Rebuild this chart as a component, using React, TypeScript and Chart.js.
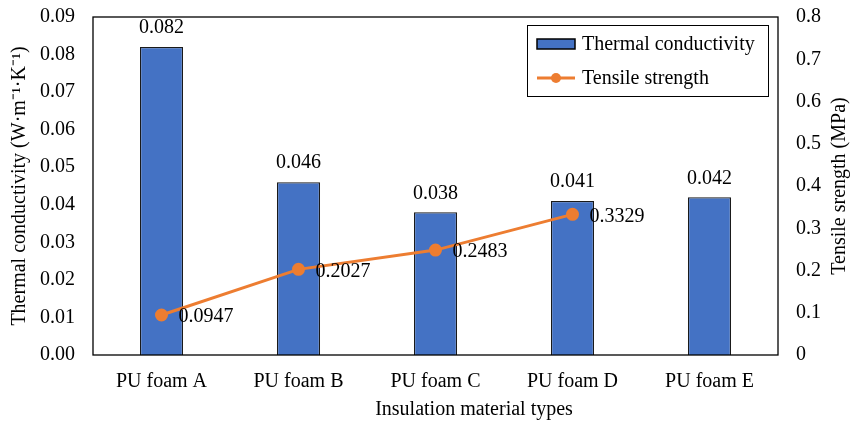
import React, { useEffect, useRef } from "react";
import { Chart, registerables } from "chart.js";

Chart.register(...registerables);

const categories = ["PU foam A", "PU foam B", "PU foam C", "PU foam D", "PU foam E"];
const thermalConductivity = [0.082, 0.046, 0.038, 0.041, 0.042];
const thermalLabels = ["0.082", "0.046", "0.038", "0.041", "0.042"];
const tensileStrength: (number | null)[] = [0.0947, 0.2027, 0.2483, 0.3329, null];
const tensileLabels = ["0.0947", "0.2027", "0.2483", "0.3329", ""];
const xTitle = "Insulation material types";
const yTitle = "Thermal conductivity (W·m⁻¹·K⁻¹)";
const y1Title = "Tensile srength (MPa)";
const legendLabels = ["Thermal conductivity", "Tensile strength"];

const FONT = "'Liberation Serif', 'Times New Roman', serif";

const labelsPlugin = {
  id: "customLabels",
  beforeDraw(chart: any) {
    const ctx = chart.ctx;
    ctx.save();
    ctx.fillStyle = "#fff";
    ctx.fillRect(0, 0, chart.width, chart.height);
    ctx.restore();
  },
  afterDatasetsDraw(chart: any) {
    const ctx = chart.ctx;
    ctx.save();
    ctx.font = `20px ${FONT}`;
    ctx.fillStyle = "#000";
    const barMeta = chart.getDatasetMeta(0);
    barMeta.data.forEach((el: any, i: number) => {
      ctx.textAlign = "center";
      ctx.textBaseline = "middle";
      ctx.fillText(thermalLabels[i], el.x, el.y - 19);
    });
    const lineMeta = chart.getDatasetMeta(1);
    lineMeta.data.forEach((el: any, i: number) => {
      if (tensileStrength[i] == null) return;
      ctx.textAlign = "left";
      ctx.textBaseline = "middle";
      ctx.fillText(tensileLabels[i], el.x + 17, el.y + 2);
    });
    ctx.restore();
  },
  afterDraw(chart: any) {
    const ctx = chart.ctx;
    const a = chart.chartArea;
    ctx.save();
    ctx.strokeStyle = "#000";
    ctx.lineWidth = 1.3;
    ctx.strokeRect(a.left, a.top, a.right - a.left, a.bottom - a.top);
    // x-axis title
    ctx.fillStyle = "#000";
    ctx.font = `20px ${FONT}`;
    ctx.textAlign = "center";
    ctx.textBaseline = "middle";
    ctx.fillText(xTitle, 474, 410);
    // right axis title (reads bottom to top)
    ctx.save();
    ctx.translate(840, (a.top + a.bottom) / 2);
    ctx.rotate(-Math.PI / 2);
    ctx.fillText(y1Title, 0, 0);
    ctx.restore();
    // legend
    const lx = 527, ly = 25, lw = 241, lh = 71;
    ctx.fillStyle = "#fff";
    ctx.fillRect(lx, ly, lw, lh);
    ctx.lineWidth = 1;
    ctx.strokeStyle = "#000";
    ctx.strokeRect(lx + 0.5, ly + 0.5, lw, lh);
    ctx.fillStyle = "#4472C4";
    ctx.fillRect(537, 39, 38, 10);
    ctx.lineWidth = 1.5;
    ctx.strokeRect(537, 39, 38, 10);
    ctx.strokeStyle = "#ED7D31";
    ctx.lineWidth = 3;
    ctx.beginPath();
    ctx.moveTo(537, 78);
    ctx.lineTo(575, 78);
    ctx.stroke();
    ctx.fillStyle = "#ED7D31";
    ctx.beginPath();
    ctx.arc(556, 78, 5, 0, Math.PI * 2);
    ctx.fill();
    ctx.fillStyle = "#000";
    ctx.font = `20px ${FONT}`;
    ctx.textAlign = "left";
    ctx.textBaseline = "middle";
    ctx.fillText(legendLabels[0], 582, 45);
    ctx.fillText(legendLabels[1], 582, 79);
    ctx.restore();
  },
};

export default function App() {
  const ref = useRef<HTMLCanvasElement>(null);
  useEffect(() => {
    document.body.style.margin = "0";
    const chart = new Chart(ref.current!, {
      type: "bar",
      data: {
        labels: categories,
        datasets: [
          {
            type: "bar",
            label: legendLabels[0],
            data: thermalConductivity,
            backgroundColor: "#4472C4",
            borderColor: "#1a1a1a",
            borderWidth: 1.3,
            barPercentage: 0.315,
            categoryPercentage: 1,
            yAxisID: "y",
            order: 2,
          },
          {
            type: "line",
            label: legendLabels[1],
            data: tensileStrength,
            borderColor: "#ED7D31",
            backgroundColor: "#ED7D31",
            borderWidth: 3,
            pointRadius: 5,
            pointBackgroundColor: "#ED7D31",
            pointBorderColor: "#ED7D31",
            yAxisID: "y1",
            order: 1,
            spanGaps: false,
          },
        ],
      },
      options: {
        responsive: false,
        animation: false,
        maintainAspectRatio: false,
        layout: { padding: { top: 17, right: 0, left: 0, bottom: 0 } },
        plugins: { legend: { display: false }, tooltip: { enabled: false } },
        scales: {
          x: {
            grid: { display: false, drawTicks: false },
            border: { display: false },
            ticks: { color: "#000", font: { family: FONT, size: 20 }, padding: 15, maxRotation: 0 },
            afterFit: (s: any) => { s.height = 67; s.paddingLeft = 0; s.paddingRight = 0; },
          },
          y: {
            position: "left",
            min: 0,
            max: 0.09,
            grid: { display: false, drawTicks: false },
            border: { display: false },
            ticks: {
              stepSize: 0.01,
              color: "#000",
              font: { family: FONT, size: 20 },
              padding: 18,
              callback: (v: any) => Number(v).toFixed(2),
            },
            title: {
              display: true,
              text: yTitle,
              color: "#000",
              font: { family: FONT, size: 20 },
              padding: { top: 8, bottom: 0 },
            },
            afterFit: (s: any) => { s.width = 93; s.paddingTop = 0; s.paddingBottom = 0; },
          },
          y1: {
            position: "right",
            min: 0,
            max: 0.8,
            grid: { display: false, drawTicks: false },
            border: { display: false },
            ticks: {
              stepSize: 0.1,
              color: "#000",
              font: { family: FONT, size: 20 },
              padding: 18,
              callback: (v: any) => String(Math.round(Number(v) * 10) / 10),
            },
            afterFit: (s: any) => { s.width = 73; s.paddingTop = 0; s.paddingBottom = 0; },
          },
        },
      },
      plugins: [labelsPlugin],
    });
    return () => chart.destroy();
  }, []);
  return (
    <div style={{ width: 851, height: 422 }}>
      <canvas ref={ref} width={851} height={422} style={{ display: "block" }} />
    </div>
  );
}
